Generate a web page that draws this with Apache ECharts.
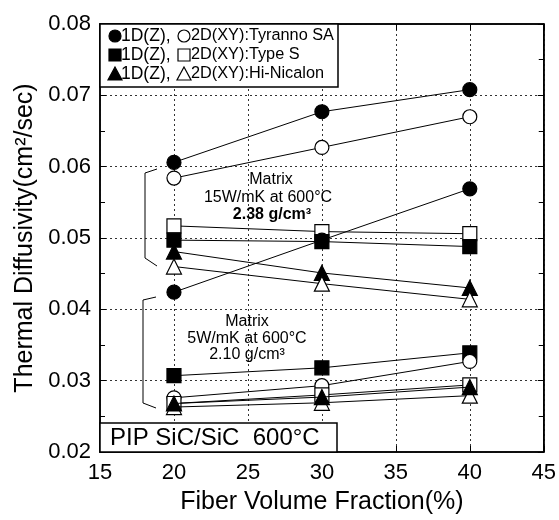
<!DOCTYPE html>
<html>
<head>
<meta charset="utf-8">
<script src="https://cdn.jsdelivr.net/npm/echarts@6/dist/echarts.min.js"></script>
<style>
html,body{margin:0;padding:0;background:#fff;}
#chart{width:559px;height:520px;}
</style>
</head>
<body>
<div id="chart"></div>
<script>
// ---- data ----
const fiberVolume = [20, 30, 40];
const xTicks = [15, 20, 25, 30, 35, 40, 45];
const yTicks = [0.02, 0.03, 0.04, 0.05, 0.06, 0.07, 0.08];

// Matrix 15 W/mK at 600C, 2.38 g/cm3
const tyrannoSA_1D_hi = [0.0606, 0.0677, 0.0708];
const tyrannoSA_2D_hi = [0.0584, 0.0627, 0.0670];
const typeS_1D_hi     = [0.0497, 0.0495, 0.0488];
const typeS_2D_hi     = [0.0517, 0.0509, 0.0506];
const hiNicalon_1D_hi = [0.0481, 0.0451, 0.0430];
const hiNicalon_2D_hi = [0.0460, 0.0436, 0.0414];

// Matrix 5 W/mK at 600C, 2.10 g/cm3
const tyrannoSA_1D_lo = [0.0424, 0.0497, 0.0569];
const tyrannoSA_2D_lo = [0.0276, 0.0293, 0.0327];
const typeS_1D_lo     = [0.0307, 0.0318, 0.0339];
const typeS_2D_lo     = [0.0268, 0.0280, 0.0294];
const hiNicalon_1D_lo = [0.0268, 0.0277, 0.0291];
const hiNicalon_2D_lo = [0.0263, 0.0269, 0.0279];

const FONT = 'Liberation Sans';

function mk(name, vals, symbol, filled, z) {
  return {
    name: name,
    type: 'line',
    data: fiberVolume.map((x, i) => [x, vals[i]]),
    symbol: symbol,
    symbolSize: symbol === 'triangle' ? 15 : 14,
    showSymbol: true,
    z: z,
    lineStyle: { color: '#000', width: 1 },
    itemStyle: { color: filled ? '#000' : '#fff', borderColor: '#000', borderWidth: 1.2 },
    emphasis: { disabled: true },
    silent: true
  };
}

const series = [
  mk('Tyranno SA 1D (15W)', tyrannoSA_1D_hi, 'circle', true, 3),
  mk('Tyranno SA 2D (15W)', tyrannoSA_2D_hi, 'circle', false, 3),
  mk('Type S 2D (15W)', typeS_2D_hi, 'rect', false, 3),
  mk('Type S 1D (15W)', typeS_1D_hi, 'rect', true, 4),
  mk('Hi-Nicalon 1D (15W)', hiNicalon_1D_hi, 'triangle', true, 5),
  mk('Hi-Nicalon 2D (15W)', hiNicalon_2D_hi, 'triangle', false, 5),
  mk('Tyranno SA 1D (5W)', tyrannoSA_1D_lo, 'circle', true, 3),
  mk('Type S 1D (5W)', typeS_1D_lo, 'rect', true, 3),
  mk('Tyranno SA 2D (5W)', tyrannoSA_2D_lo, 'circle', false, 3),
  mk('Type S 2D (5W)', typeS_2D_lo, 'rect', false, 4),
  mk('Hi-Nicalon 2D (5W)', hiNicalon_2D_lo, 'triangle', false, 5),
  mk('Hi-Nicalon 1D (5W)', hiNicalon_1D_lo, 'triangle', true, 6)
];

const gridLine = { show: true, lineStyle: { color: '#333', type: [2, 3], width: 1 } };

function txt(x, y, text, size, opts) {
  opts = opts || {};
  return {
    type: 'text', z: 12, x: x, y: y,
    style: {
      text: text, fontSize: size, fontFamily: FONT, fontWeight: opts.bold ? 'bold' : 'normal',
      fill: '#000', align: opts.align || 'left', verticalAlign: 'middle'
    }
  };
}

function legendRow(y, kind, t1, t2) {
  const els = [];
  const shape = (cx, cy, filled) => {
    const style = { fill: filled ? '#000' : '#fff', stroke: '#000', lineWidth: 1.2 };
    if (kind === 'circle') return { type: 'circle', z: 12, shape: { cx: cx, cy: cy, r: 6 }, style: style };
    if (kind === 'rect') return { type: 'rect', z: 12, shape: { x: cx - 6, y: cy - 6, width: 12, height: 12 }, style: style };
    return { type: 'polygon', z: 12, shape: { points: [[cx, cy - 7], [cx + 7, cy + 6], [cx - 7, cy + 6]] }, style: style };
  };
  els.push(shape(115, y, true));
  els.push(txt(121, y, t1, 17.5));
  els.push(shape(184, y, false));
  els.push(txt(191, y, t2, 16.3));
  return els;
}

const graphics = [
  { type: 'rect', z: 10, shape: { x: 100, y: 24, width: 238, height: 63 }, style: { fill: '#fff', stroke: '#000', lineWidth: 1.5 } },
  ...legendRow(36, 'circle', '1D(Z), ', '2D(XY):Tyranno SA'),
  ...legendRow(55, 'rect', '1D(Z), ', '2D(XY):Type S'),
  ...legendRow(74, 'triangle', '1D(Z), ', '2D(XY):Hi-Nicalon'),
  { type: 'rect', z: 10, shape: { x: 100, y: 423, width: 237, height: 29 }, style: { fill: '#fff', stroke: '#000', lineWidth: 1.5 } },
  txt(110, 438, 'PIP SiC/SiC  600\u00B0C', 24),
  // annotations
  txt(271, 180, 'Matrix', 16, { align: 'center' }),
  txt(268, 198, '15W/mK at 600\u00B0C', 16, { align: 'center' }),
  txt(272, 215, '2.38 g/cm\u00B3', 16, { align: 'center', bold: true }),
  txt(247, 322, 'Matrix', 16, { align: 'center' }),
  txt(247, 339, '5W/mK at 600\u00B0C', 16, { align: 'center' }),
  txt(247, 355, '2.10 g/cm\u00B3', 16, { align: 'center' }),
  // brackets
  { type: 'polyline', z: 11, shape: { points: [[157, 169], [145, 173], [145, 258], [157, 266]] }, style: { stroke: '#000', lineWidth: 1, fill: null } },
  { type: 'polyline', z: 11, shape: { points: [[156, 297], [143, 300], [143, 403], [156, 408]] }, style: { stroke: '#000', lineWidth: 1, fill: null } }
];

const chart = echarts.init(document.getElementById('chart'), null, { renderer: 'canvas' });
chart.setOption({
  animation: false,
  backgroundColor: '#fff',
  textStyle: { fontFamily: FONT },
  grid: { left: 100, right: 14, top: 24, bottom: 68, show: true, borderColor: '#000', borderWidth: 1.5, backgroundColor: 'transparent' },
  xAxis: [{
    type: 'value', min: xTicks[0], max: xTicks[xTicks.length - 1], interval: 5,
    name: 'Fiber Volume Fraction(%)', nameLocation: 'middle', nameGap: 38,
    nameTextStyle: { fontSize: 25, color: '#000', fontFamily: FONT },
    axisLine: { show: true, lineStyle: { color: '#000', width: 1.5 } },
    axisTick: { show: true, inside: true, length: 6, lineStyle: { color: '#000' } },
    minorTick: { show: false },
    axisLabel: { fontSize: 22, color: '#000', margin: 10, fontFamily: FONT },
    splitLine: gridLine
  }, {
    type: 'value', position: 'top', min: 15, max: 45, interval: 5,
    axisLine: { show: true, lineStyle: { color: '#000', width: 1.5 } },
    axisTick: { show: true, inside: true, length: 6, lineStyle: { color: '#000' } },
    axisLabel: { show: false }, splitLine: { show: false }
  }],
  yAxis: [{
    type: 'value', min: yTicks[0], max: yTicks[yTicks.length - 1], interval: 0.01,
    name: 'Thermal Diffusivity(cm\u00B2/sec)', nameLocation: 'middle', nameGap: 62,
    nameTextStyle: { fontSize: 25, color: '#000', fontFamily: FONT },
    axisLine: { show: true, lineStyle: { color: '#000', width: 1.5 } },
    axisTick: { show: true, inside: true, length: 6, lineStyle: { color: '#000' } },
    minorTick: { show: true, splitNumber: 2, length: 5, lineStyle: { color: '#000' } },
    axisLabel: { fontSize: 22, color: '#000', margin: 9, fontFamily: FONT, formatter: v => v.toFixed(2) },
    splitLine: gridLine
  }, {
    type: 'value', position: 'right', min: 0.02, max: 0.08, interval: 0.01,
    axisLine: { show: true, lineStyle: { color: '#000', width: 1.5 } },
    axisTick: { show: true, inside: true, length: 6, lineStyle: { color: '#000' } },
    minorTick: { show: true, splitNumber: 2, length: 5, lineStyle: { color: '#000' } },
    axisLabel: { show: false }, splitLine: { show: false }
  }],
  series: series,
  graphic: graphics
});
</script>
</body>
</html>
